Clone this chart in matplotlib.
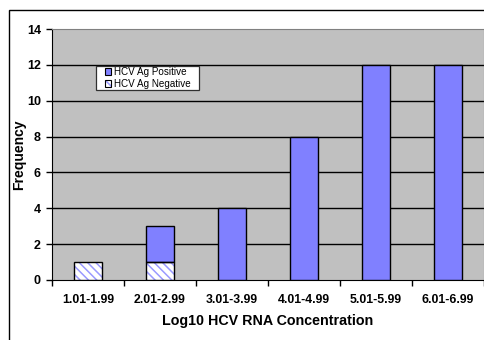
import matplotlib
matplotlib.use("Agg")
import matplotlib.pyplot as plt
from matplotlib.patches import Rectangle, Patch
from matplotlib.legend_handler import HandlerTuple
import numpy as np

plt.rcParams['font.family'] = ['Liberation Sans', 'DejaVu Sans']
plt.rcParams['hatch.linewidth'] = 1.1

categories = ["1.01-1.99", "2.01-2.99", "3.01-3.99", "4.01-4.99", "5.01-5.99", "6.01-6.99"]
negative = [1, 1, 0, 0, 0, 0]
positive = [0, 2, 4, 8, 12, 12]
yticks = [0, 2, 4, 6, 8, 10, 12, 14]

POS_COLOR = '#8080FF'
HATCH_COLOR = '#9999FF'

W, H = 485, 340
fig = plt.figure(figsize=(W/100, H/100), dpi=100)
fig.patch.set_facecolor('white')

# outer frame
fig.patches.append(Rectangle((9/W, -0.1), 1.2, (H-10)/H + 0.1, transform=fig.transFigure,
                             fill=False, edgecolor='black', linewidth=1.0))

AX_L, AX_R, AX_T, AX_B = 52, 484, 29, 280
ax = fig.add_axes([AX_L/W, (H-AX_B)/H, (AX_R-AX_L)/W, (AX_B-AX_T)/H])
ax.set_facecolor('#C0C0C0')
x = np.arange(len(categories))
bw = 0.39
neg_vals = np.array(negative)
pos_vals = np.array(positive)
nm = neg_vals > 0
pm = pos_vals > 0

# negative: hatched fill + black outline
ax.bar(x[nm], neg_vals[nm], width=bw, color='white', hatch='\\\\\\\\', edgecolor=HATCH_COLOR,
       linewidth=0, zorder=3)
ax.bar(x[nm], neg_vals[nm], width=bw, fill=False, edgecolor='black', linewidth=1.0, zorder=4)
# positive
ax.bar(x[pm], pos_vals[pm], width=bw, bottom=neg_vals[pm], color=POS_COLOR, edgecolor='black',
       linewidth=1.0, zorder=3)

ax.set_xlim(-0.5, len(categories) - 0.5)
ax.set_ylim(0, 14)
ax.set_yticks(yticks)
ax.set_yticklabels([str(v) for v in yticks], fontsize=9, fontweight='bold')
ax.set_xticks(x)
ax.set_xticklabels(categories, fontsize=8.8, fontweight='bold')
ax.tick_params(axis='x', length=0, pad=10)
ax.set_xticks(np.arange(len(categories) + 1) - 0.5, minor=True)
ax.tick_params(axis='x', which='minor', length=4, width=1, color='black', direction='out')
ax.tick_params(axis='y', length=4, width=1, color='black', direction='out', pad=4)
for v in yticks[1:-1]:
    ax.axhline(v, color='black', linewidth=1.0, zorder=1)
for s in ['top', 'right']:
    ax.spines[s].set_color('#808080')
ax.spines['left'].set_color('black')
ax.spines['bottom'].set_color('black')

ax.set_ylabel('Frequency', fontsize=10, fontweight='bold')
ax.yaxis.set_label_coords((26 - AX_L) / (AX_R - AX_L), 0.5)
ax.set_xlabel('Log10 HCV RNA Concentration', fontsize=10.3, fontweight='bold', labelpad=6)

# legend frame (white box with dark border)
fig.patches.append(Rectangle((96/W, (H-90)/H), (199-96)/W, (90-66)/H, transform=fig.transFigure,
                             facecolor='white', edgecolor='#303030', linewidth=0.9, zorder=4))

h_pos = Patch(facecolor=POS_COLOR, edgecolor='black', linewidth=0.8)
h_neg_fill = Patch(facecolor='white', hatch='\\\\\\\\', edgecolor=HATCH_COLOR, linewidth=0)
h_neg_edge = Patch(fill=False, edgecolor='black', linewidth=0.8)
leg = fig.legend([h_pos, (h_neg_fill, h_neg_edge)], ['HCV Ag Positive', 'HCV Ag Negative'],
                 handler_map={tuple: HandlerTuple(ndivide=1, pad=0)},
                 loc='center left',
                 bbox_to_anchor=(105/W, (H-78)/H),
                 fontsize=7.1, frameon=False,
                 handlelength=0.6, handleheight=0.6, handletextpad=0.3, borderpad=0.0,
                 labelspacing=0.2, borderaxespad=0)
leg.set_zorder(6)

fig.savefig('out.png', dpi=100)
